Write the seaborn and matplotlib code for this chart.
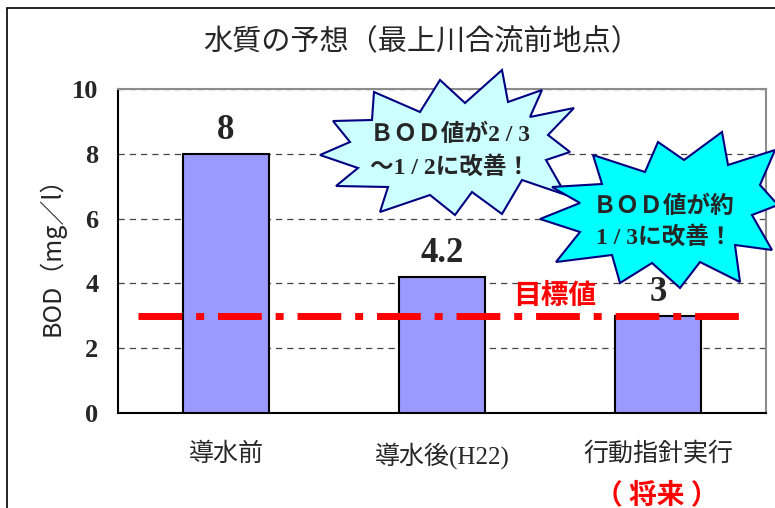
import matplotlib
matplotlib.use("Agg")
import matplotlib.pyplot as plt
import seaborn as sns
from matplotlib.patches import Polygon, Rectangle

categories = ['導水前', '導水後(H22)', '行動指針実行']
bod = [8, 4.2, 3]
value_labels = ['8', '4.2', '3']
target = 3
yticks = [0, 2, 4, 6, 8, 10]

sns.set_style("white")
plt.rcParams['font.family'] = ['Noto Sans CJK JP', 'DejaVu Sans']
mixed = ['Liberation Serif', 'Noto Sans CJK JP']

W, H = 775, 508
fig = plt.figure(figsize=(W / 100, H / 100), dpi=100)
ax = fig.add_axes([118 / W, 95 / H, 648 / W, 324 / H])

sns.barplot(x=categories, y=bod, color='#9999FF', saturation=1, width=0.4,
            edgecolor='black', linewidth=1.5, ax=ax, zorder=3)
ax.set_ylim(0, 10)
ax.set_xlim(-0.5, 2.5)
ax.set_yticks(yticks)
ax.set_yticklabels([str(v) for v in yticks], fontfamily='Liberation Serif',
                   fontweight='bold', fontsize=19)
ax.tick_params(axis='y', length=0, pad=14)
ax.tick_params(axis='x', length=0, pad=21, labelsize=18)
for lab in ax.get_xticklabels():
    lab.set_fontfamily(mixed)
ax.set_xticks([0.5, 1.5], minor=True)
ax.tick_params(axis='x', which='minor', direction='in', length=7, color='#666')
ax.set_xlabel('')
ax.set_ylabel('')

ax.yaxis.grid(True, linestyle=(0, (5, 4)), color='#444', linewidth=0.9)
ax.set_axisbelow(True)
for side in ['left', 'bottom']:
    ax.spines[side].set_color('black')
    ax.spines[side].set_linewidth(1.5)
for side in ['top', 'right']:
    ax.spines[side].set_color('#8c8c8c')
    ax.spines[side].set_linewidth(1.5)

ax.bar_label(ax.containers[0], labels=value_labels, padding=5,
             fontfamily='Liberation Serif', fontweight='bold', fontsize=25)

# target line
ax.axhline(target, xmin=0.031, xmax=0.96, color='red', linewidth=5,
           dashes=(6.3, 2, 1.15, 2), zorder=5)
ax.annotate('目標値', xy=(1.52, target), xytext=(0, 4), textcoords='offset points',
            ha='center', va='bottom', color='red', fontsize=20, fontweight='bold')

fig.text(422 / W, 1 - 42 / H, '水質の予想（最上川合流前地点）', ha='center', va='center',
         fontsize=21)
fig.text(52 / W, 1 - 250 / H, 'BOD（mg／l）', rotation=90, ha='center', va='center',
         fontsize=18)
fig.text(657 / W, 1 - 495 / H, '（ 将来 ）', ha='center', va='center', color='red',
         fontsize=20, fontweight='bold')

# outer frame
fig.add_artist(Rectangle((7 / W, -0.5), 2, 0.5 + 1 - 8 / H, transform=fig.transFigure,
                         fill=False, edgecolor='black', linewidth=1.2))

# callout bursts (decoration, pixel space)
ov = fig.add_axes([0, 0, 1, 1])
ov.set_xlim(0, W)
ov.set_ylim(H, 0)
ov.axis('off')
ov.patch.set_alpha(0)

burst1 = [(502, 70), (508, 102), (542, 90), (530, 117), (574, 108), (548, 135),
          (570, 152), (546, 160), (566, 195), (522, 180), (502, 214), (472, 192),
          (455, 215), (430, 195), (380, 212), (388, 187), (336, 186), (358, 168),
          (320, 155), (350, 142), (333, 121), (372, 120), (374, 92), (420, 112),
          (440, 80), (465, 103)]
burst2 = [(722, 132), (728, 165), (775, 150), (760, 185), (778, 205), (752, 215),
          (772, 250), (735, 245), (740, 282), (700, 262), (680, 288), (652, 263),
          (620, 283), (612, 255), (556, 262), (580, 232), (540, 219), (580, 203),
          (552, 187), (602, 184), (593, 155), (645, 172), (658, 142), (684, 160)]
ov.add_patch(Polygon(burst1, closed=True, facecolor='#CCFFFF', edgecolor='#000080',
                     linewidth=1.5))
ov.add_patch(Polygon(burst2, closed=True, facecolor='#00FFFF', edgecolor='#000080',
                     linewidth=1.5))

ov.text(450, 135, 'ＢＯＤ値が2 / 3', ha='center', va='center', fontsize=17,
        fontweight='bold', fontfamily=mixed)
ov.text(450, 167, '～1 / 2に改善！', ha='center', va='center', fontsize=17,
        fontweight='bold', fontfamily=mixed)
ov.text(664, 207, 'ＢＯＤ値が約', ha='center', va='center', fontsize=17,
        fontweight='bold', fontfamily=mixed)
ov.text(664, 237, '1 / 3に改善！', ha='center', va='center', fontsize=17,
        fontweight='bold', fontfamily=mixed)

fig.savefig('out.png', dpi=100)
